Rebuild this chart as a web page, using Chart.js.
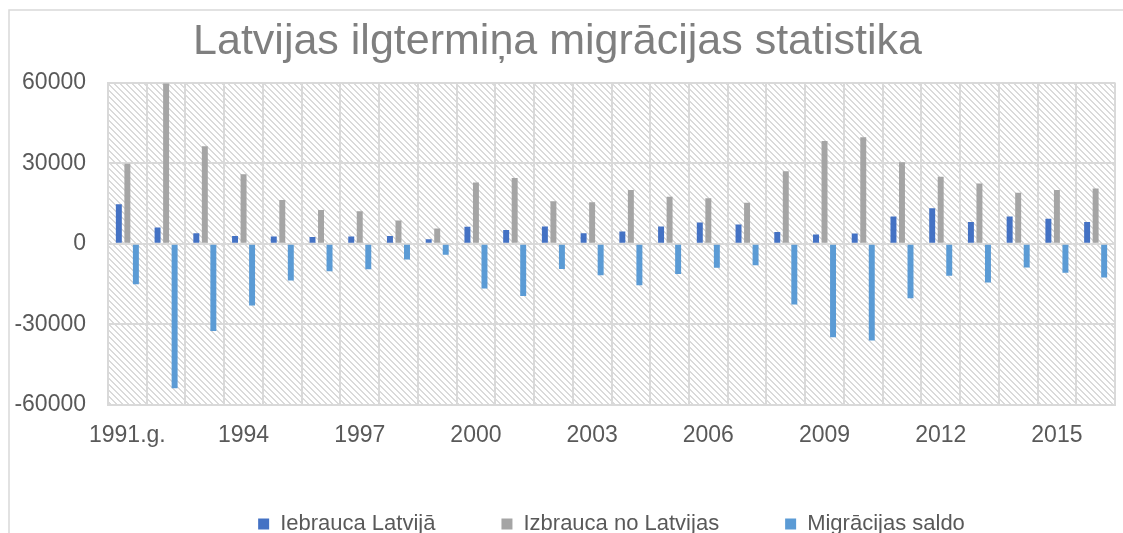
<!DOCTYPE html>
<html>
<head>
<meta charset="utf-8">
<title>Latvijas ilgtermiņa migrācijas statistika</title>
<script src="https://cdn.jsdelivr.net/npm/chart.js@4.4.1/dist/chart.umd.min.js"></script>
<style>
  html, body { margin: 0; padding: 0; background: #fff; overflow: hidden; }
  #wrap { width: 1123px; height: 533px; overflow: hidden; position: relative; }
</style>
</head>
<body>
<div id="wrap"><canvas id="chart" width="1123" height="545"></canvas></div>
<script>
// years on the category axis
const years = ["1991.g.", "1992", "1993", "1994", "1995", "1996", "1997", "1998", "1999", "2000",
  "2001", "2002", "2003", "2004", "2005", "2006", "2007", "2008", "2009", "2010",
  "2011", "2012", "2013", "2014", "2015", "2016"];

// values
const iebrauca = [14700, 6100, 3900, 2900, 2700, 2500, 2700, 2900, 1700, 6300,
  5100, 6400, 3900, 4600, 6400, 7900, 7200, 4400, 3500, 3800,
  10200, 13200, 8100, 10200, 9300, 8100];
const izbrauca = [29800, 59700, 36300, 25900, 16300, 12600, 12100, 8700, 5700, 22800,
  24500, 15800, 15500, 20000, 17500, 17000, 15300, 27000, 38300, 39700,
  30400, 25000, 22400, 19000, 20000, 20600];
const saldo = [-15100, -53800, -32500, -23000, -13700, -10200, -9500, -5800, -4100, -16600,
  -19400, -9400, -11700, -15400, -11200, -8900, -8000, -22600, -34800, -36000,
  -20300, -11900, -14400, -8800, -10800, -12500];

const seriesNames = ["Iebrauca Latvijā", "Izbrauca no Latvijas", "Migrācijas saldo"];
const yTicks = [-60000, -30000, 0, 30000, 60000];

const FONT = "'Liberation Sans', Arial, sans-serif";
const GRID = "#d9d9d9";
const TEXT = "#595959";

// diagonal hatch used as the plot background
function makeHatch() {
  const c = document.createElement("canvas");
  c.width = 6; c.height = 6;
  const g = c.getContext("2d");
  g.fillStyle = "#ffffff";
  g.fillRect(0, 0, 6, 6);
  g.fillStyle = "#dadada";
  for (let y = 0; y < 6; y++) {
    for (let x = 0; x < 6; x++) {
      if ((x - y + 12) % 6 < 2) g.fillRect(x, y, 1, 1);
    }
  }
  return g.createPattern(c, "repeat");
}

const backdrop = {
  id: "backdrop",
  beforeDraw(chart) {
    const { ctx, chartArea } = chart;
    ctx.save();
    ctx.fillStyle = makeHatch();
    ctx.fillRect(chartArea.left, chartArea.top, chartArea.right - chartArea.left, chartArea.bottom - chartArea.top);
    // chart frame (left and top edges visible)
    ctx.strokeStyle = GRID;
    ctx.lineWidth = 1.5;
    ctx.beginPath();
    ctx.moveTo(9, chart.height);
    ctx.lineTo(9, 10);
    ctx.lineTo(chart.width, 10);
    ctx.stroke();
    ctx.restore();
  }
};

new Chart(document.getElementById("chart"), {
  type: "bar",
  data: {
    labels: years,
    datasets: [
      { label: seriesNames[0], data: iebrauca, backgroundColor: "#4472C4" },
      { label: seriesNames[1], data: izbrauca, backgroundColor: "#A5A5A5" },
      { label: seriesNames[2], data: saldo, backgroundColor: "#5B9BD5" }
    ]
  },
  options: {
    responsive: false,
    animation: false,
    devicePixelRatio: 1,
    datasets: { bar: { categoryPercentage: 0.66, barPercentage: 0.7 } },
    layout: { padding: { left: 0, right: 8, top: 0, bottom: 0 } },
    plugins: {
      title: {
        display: true,
        text: "Latvijas ilgtermiņa migrācijas statistika",
        color: "#7f7f7f",
        font: { family: FONT, size: 43, weight: "normal" },
        padding: { top: 16, bottom: 15 }
      },
      legend: {
        position: "bottom",
        fullSize: false,
        labels: {
          color: TEXT,
          font: { family: FONT, size: 22 },
          boxWidth: 11,
          boxHeight: 11,
          padding: 66
        }
      },
      tooltip: { enabled: false }
    },
    scales: {
      x: {
        grid: { color: GRID, lineWidth: 2, drawTicks: false, offset: true },
        border: { color: GRID, width: 2 },
        ticks: {
          color: TEXT,
          font: { family: FONT, size: 23 },
          padding: 17,
          autoSkip: false,
          maxRotation: 0,
          callback: (v, i) => (i % 3 === 0 ? years[i] : "")
        },
        afterFit(scale) { scale.height = 42; }
      },
      y: {
        min: yTicks[0],
        max: yTicks[yTicks.length - 1],
        afterBuildTicks(scale) { scale.ticks = yTicks.map(v => ({ value: v })); },
        grid: { color: GRID, lineWidth: 2, drawTicks: false },
        border: { color: GRID, width: 2 },
        ticks: {
          color: TEXT,
          font: { family: FONT, size: 23 },
          padding: 22,
          callback: v => String(v)
        },
        afterFit(scale) { scale.width = 108; }
      }
    }
  },
  plugins: [backdrop]
});
</script>
</body>
</html>
